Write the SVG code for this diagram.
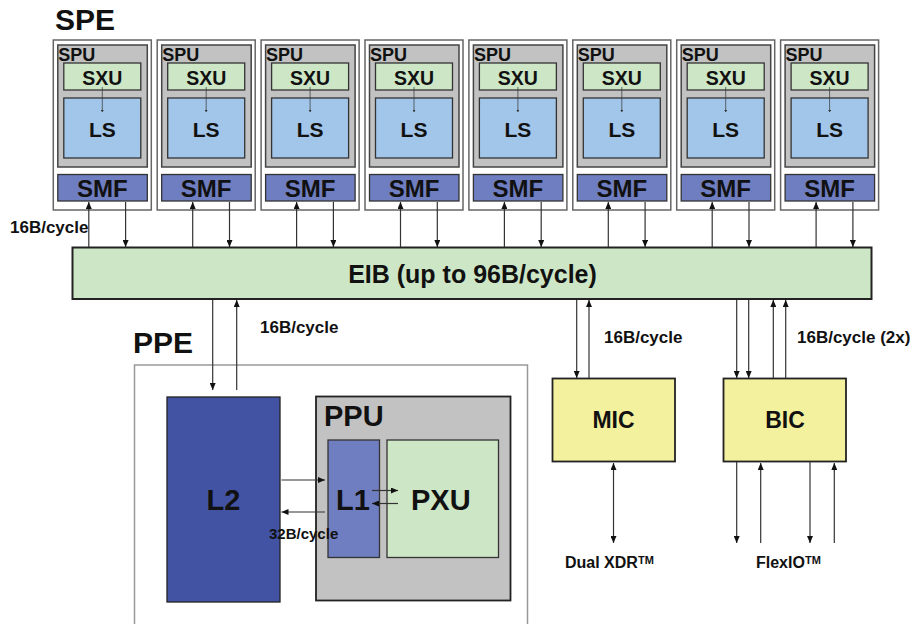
<svg xmlns="http://www.w3.org/2000/svg" width="916" height="624" viewBox="0 0 916 624">
<defs>
<marker id="ah" markerUnits="userSpaceOnUse" markerWidth="8" markerHeight="6" refX="7" refY="3" orient="auto-start-reverse"><path d="M0,0 L7,3 L0,6 z" fill="#111"/></marker>
<marker id="ahs" markerUnits="userSpaceOnUse" markerWidth="3" markerHeight="3" refX="2" refY="1.5" orient="auto"><path d="M0,0 L2,1.5 L0,3 z" fill="#333"/></marker>
</defs>
<style>
text{font-family:"Liberation Sans",Arial,sans-serif;font-weight:bold;fill:#111}
.outer{fill:#fff;stroke:#666;stroke-width:1.5}
.spu{fill:#c2c2c2;stroke:#444;stroke-width:1.5}
.green{fill:#cde6c5;stroke:#333;stroke-width:1.3}
.ls{fill:#a2c6ea;stroke:#333;stroke-width:1.3}
.smf{fill:#6f7ec0;stroke:#333;stroke-width:1.3}
.yel{fill:#f3f09e;stroke:#222;stroke-width:1.8}
.c{stroke:#333;stroke-width:1.2;fill:none}
.a{marker-end:url(#ah)}
.d{marker-start:url(#ah);marker-end:url(#ah)}
.mid{text-anchor:middle}
</style>
<rect width="916" height="624" fill="#fff"/>
<text x="55" y="30" font-size="30">SPE</text>
<g id="spe1" transform="translate(53.3,0)">
<rect class="outer" x="0" y="40" width="98" height="170"/><rect class="spu" x="4.5" y="45" width="89.5" height="122"/><text x="5" y="61" font-size="18">SPU</text>
<rect class="green" x="10.5" y="63" width="77" height="27"/><text class="mid" x="49" y="85" font-size="19.5">SXU</text>
<rect class="ls" x="10.5" y="98" width="77" height="60"/><text class="mid" x="49" y="137" font-size="21">LS</text>
<line x1="49" y1="87" x2="49" y2="112" stroke="#333" stroke-width="0.7" marker-end="url(#ahs)"/>
<rect class="smf" x="4.5" y="174.5" width="89.5" height="26.5"/><text class="mid" x="49" y="197" font-size="24">SMF</text>
</g>
<g id="spe2" transform="translate(157.2,0)">
<rect class="outer" x="0" y="40" width="98" height="170"/><rect class="spu" x="4.5" y="45" width="89.5" height="122"/><text x="5" y="61" font-size="18">SPU</text>
<rect class="green" x="10.5" y="63" width="77" height="27"/><text class="mid" x="49" y="85" font-size="19.5">SXU</text>
<rect class="ls" x="10.5" y="98" width="77" height="60"/><text class="mid" x="49" y="137" font-size="21">LS</text>
<line x1="49" y1="87" x2="49" y2="112" stroke="#333" stroke-width="0.7" marker-end="url(#ahs)"/>
<rect class="smf" x="4.5" y="174.5" width="89.5" height="26.5"/><text class="mid" x="49" y="197" font-size="24">SMF</text>
</g>
<g id="spe3" transform="translate(261.1,0)">
<rect class="outer" x="0" y="40" width="98" height="170"/><rect class="spu" x="4.5" y="45" width="89.5" height="122"/><text x="5" y="61" font-size="18">SPU</text>
<rect class="green" x="10.5" y="63" width="77" height="27"/><text class="mid" x="49" y="85" font-size="19.5">SXU</text>
<rect class="ls" x="10.5" y="98" width="77" height="60"/><text class="mid" x="49" y="137" font-size="21">LS</text>
<line x1="49" y1="87" x2="49" y2="112" stroke="#333" stroke-width="0.7" marker-end="url(#ahs)"/>
<rect class="smf" x="4.5" y="174.5" width="89.5" height="26.5"/><text class="mid" x="49" y="197" font-size="24">SMF</text>
</g>
<g id="spe4" transform="translate(365,0)">
<rect class="outer" x="0" y="40" width="98" height="170"/><rect class="spu" x="4.5" y="45" width="89.5" height="122"/><text x="5" y="61" font-size="18">SPU</text>
<rect class="green" x="10.5" y="63" width="77" height="27"/><text class="mid" x="49" y="85" font-size="19.5">SXU</text>
<rect class="ls" x="10.5" y="98" width="77" height="60"/><text class="mid" x="49" y="137" font-size="21">LS</text>
<line x1="49" y1="87" x2="49" y2="112" stroke="#333" stroke-width="0.7" marker-end="url(#ahs)"/>
<rect class="smf" x="4.5" y="174.5" width="89.5" height="26.5"/><text class="mid" x="49" y="197" font-size="24">SMF</text>
</g>
<g id="spe5" transform="translate(468.9,0)">
<rect class="outer" x="0" y="40" width="98" height="170"/><rect class="spu" x="4.5" y="45" width="89.5" height="122"/><text x="5" y="61" font-size="18">SPU</text>
<rect class="green" x="10.5" y="63" width="77" height="27"/><text class="mid" x="49" y="85" font-size="19.5">SXU</text>
<rect class="ls" x="10.5" y="98" width="77" height="60"/><text class="mid" x="49" y="137" font-size="21">LS</text>
<line x1="49" y1="87" x2="49" y2="112" stroke="#333" stroke-width="0.7" marker-end="url(#ahs)"/>
<rect class="smf" x="4.5" y="174.5" width="89.5" height="26.5"/><text class="mid" x="49" y="197" font-size="24">SMF</text>
</g>
<g id="spe6" transform="translate(572.8,0)">
<rect class="outer" x="0" y="40" width="98" height="170"/><rect class="spu" x="4.5" y="45" width="89.5" height="122"/><text x="5" y="61" font-size="18">SPU</text>
<rect class="green" x="10.5" y="63" width="77" height="27"/><text class="mid" x="49" y="85" font-size="19.5">SXU</text>
<rect class="ls" x="10.5" y="98" width="77" height="60"/><text class="mid" x="49" y="137" font-size="21">LS</text>
<line x1="49" y1="87" x2="49" y2="112" stroke="#333" stroke-width="0.7" marker-end="url(#ahs)"/>
<rect class="smf" x="4.5" y="174.5" width="89.5" height="26.5"/><text class="mid" x="49" y="197" font-size="24">SMF</text>
</g>
<g id="spe7" transform="translate(676.7,0)">
<rect class="outer" x="0" y="40" width="98" height="170"/><rect class="spu" x="4.5" y="45" width="89.5" height="122"/><text x="5" y="61" font-size="18">SPU</text>
<rect class="green" x="10.5" y="63" width="77" height="27"/><text class="mid" x="49" y="85" font-size="19.5">SXU</text>
<rect class="ls" x="10.5" y="98" width="77" height="60"/><text class="mid" x="49" y="137" font-size="21">LS</text>
<line x1="49" y1="87" x2="49" y2="112" stroke="#333" stroke-width="0.7" marker-end="url(#ahs)"/>
<rect class="smf" x="4.5" y="174.5" width="89.5" height="26.5"/><text class="mid" x="49" y="197" font-size="24">SMF</text>
</g>
<g id="spe8" transform="translate(780.6,0)">
<rect class="outer" x="0" y="40" width="98" height="170"/><rect class="spu" x="4.5" y="45" width="89.5" height="122"/><text x="5" y="61" font-size="18">SPU</text>
<rect class="green" x="10.5" y="63" width="77" height="27"/><text class="mid" x="49" y="85" font-size="19.5">SXU</text>
<rect class="ls" x="10.5" y="98" width="77" height="60"/><text class="mid" x="49" y="137" font-size="21">LS</text>
<line x1="49" y1="87" x2="49" y2="112" stroke="#333" stroke-width="0.7" marker-end="url(#ahs)"/>
<rect class="smf" x="4.5" y="174.5" width="89.5" height="26.5"/><text class="mid" x="49" y="197" font-size="24">SMF</text>
</g>
<g id="eib">
<rect x="72.5" y="247.5" width="799" height="51.5" fill="#cde6c5" stroke="#222" stroke-width="2"/>
<text class="mid" x="472.5" y="283" font-size="25">EIB (up to 96B/cycle)</text>
</g>
<g id="ppe">
<text x="133" y="353" font-size="30">PPE</text>
<rect x="134.5" y="365" width="393" height="275" fill="#fff" stroke="#999" stroke-width="1.5"/>
</g>
<g id="l2">
<rect x="167" y="397" width="113" height="205" fill="#4253a3" stroke="#222" stroke-width="1.3"/>
<text class="mid" x="223.5" y="510" font-size="29">L2</text>
</g>
<g id="ppu">
<rect x="316" y="396.5" width="194.5" height="204" fill="#c2c2c2" stroke="#222" stroke-width="1.8"/>
<text x="324" y="426" font-size="29">PPU</text>
</g>
<g id="l1">
<rect x="328" y="440" width="51.5" height="117.5" fill="#6f7ec0" stroke="#333" stroke-width="1.3"/>
<text x="336" y="510" font-size="29">L1</text>
</g>
<g id="pxu">
<rect x="387" y="440" width="111.5" height="117.5" fill="#cde6c5" stroke="#333" stroke-width="1.3"/>
<text x="411" y="510" font-size="29">PXU</text>
</g>
<g id="mic">
<rect class="yel" x="552.5" y="378.5" width="122.5" height="83"/>
<text class="mid" x="613.5" y="428" font-size="23">MIC</text>
</g>
<g id="bic">
<rect class="yel" x="723.5" y="378.5" width="122.5" height="83"/>
<text class="mid" x="785" y="428" font-size="23">BIC</text>
</g>
<g id="labels">
<text x="10" y="233" font-size="17">16B/cycle</text>
<text x="260" y="333" font-size="17">16B/cycle</text>
<text x="604" y="343" font-size="17">16B/cycle</text>
<text x="797" y="343" font-size="17">16B/cycle (2x)</text>
<text x="269" y="539" font-size="15">32B/cycle</text>
<text x="565" y="568" font-size="16">Dual XDR<tspan font-size="11" dy="-4">TM</tspan></text>
<text x="756" y="568" font-size="16">FlexIO<tspan font-size="11" dy="-4">TM</tspan></text>
</g>
<g id="connectors">
<line class="c a" x1="88.8" y1="247" x2="88.8" y2="202"/><line class="c a" x1="125.6" y1="202" x2="125.6" y2="247"/>
<line class="c a" x1="192.7" y1="247" x2="192.7" y2="202"/><line class="c a" x1="229.5" y1="202" x2="229.5" y2="247"/>
<line class="c a" x1="296.6" y1="247" x2="296.6" y2="202"/><line class="c a" x1="333.4" y1="202" x2="333.4" y2="247"/>
<line class="c a" x1="400.5" y1="247" x2="400.5" y2="202"/><line class="c a" x1="437.3" y1="202" x2="437.3" y2="247"/>
<line class="c a" x1="504.4" y1="247" x2="504.4" y2="202"/><line class="c a" x1="541.2" y1="202" x2="541.2" y2="247"/>
<line class="c a" x1="608.3" y1="247" x2="608.3" y2="202"/><line class="c a" x1="645.1" y1="202" x2="645.1" y2="247"/>
<line class="c a" x1="712.2" y1="247" x2="712.2" y2="202"/><line class="c a" x1="749" y1="202" x2="749" y2="247"/>
<line class="c a" x1="816.1" y1="247" x2="816.1" y2="202"/><line class="c a" x1="852.9" y1="202" x2="852.9" y2="247"/>
<line class="c a" x1="212.7" y1="300" x2="212.7" y2="390"/><line class="c a" x1="236.7" y1="390" x2="236.7" y2="300"/>
<line class="c a" x1="281.5" y1="480" x2="325" y2="480"/><line class="c a" x1="325" y1="512" x2="281.5" y2="512"/>
<line class="c a" x1="372" y1="490.5" x2="398" y2="490.5" stroke-width="1"/><line class="c a" x1="398" y1="503.5" x2="372" y2="503.5" stroke-width="1"/>
<line class="c a" x1="576.7" y1="300" x2="576.7" y2="378"/><line class="c a" x1="589" y1="378" x2="589" y2="300"/>
<line class="c a" x1="736.7" y1="300" x2="736.7" y2="378"/><line class="c a" x1="748.7" y1="300" x2="748.7" y2="378"/>
<line class="c a" x1="773.3" y1="378" x2="773.3" y2="300"/><line class="c a" x1="785.7" y1="378" x2="785.7" y2="300"/>
<line class="c d" x1="613.5" y1="463" x2="613.5" y2="543"/>
<line class="c a" x1="736.7" y1="462" x2="736.7" y2="543"/><line class="c a" x1="760.7" y1="543" x2="760.7" y2="463"/>
<line class="c a" x1="810" y1="462" x2="810" y2="543"/><line class="c a" x1="834.3" y1="543" x2="834.3" y2="463"/>
</g>
</svg>
